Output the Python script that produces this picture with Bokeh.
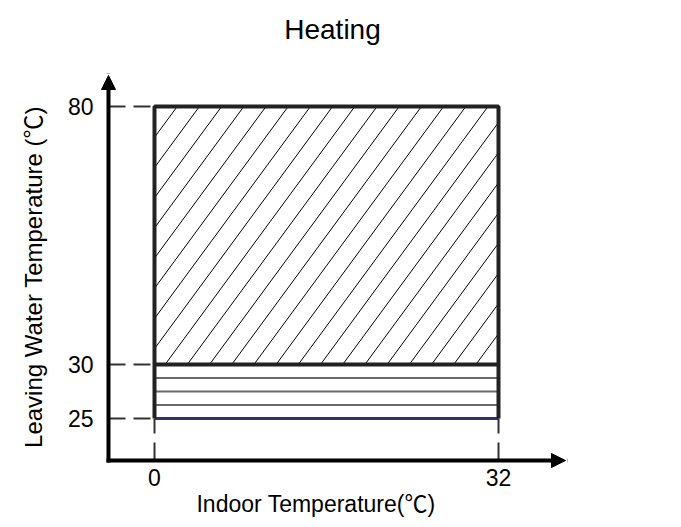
import numpy as np
from bokeh.plotting import figure
from bokeh.models import Range1d, Arrow, NormalHead, Label
from bokeh.core.properties import value
from bokeh.embed import file_html
from bokeh.resources import INLINE

# ---- data ----
title_text = "Heating"
x_label = "Indoor Temperature(℃)"
y_label = "Leaving Water Temperature (℃)"
x_ticks = [0, 32]            # indoor temperature limits
y_ticks = [25, 30, 80]       # leaving water temperature levels
band_lines = [26.25, 27.5, 28.75]   # subdivision lines of the 25-30 band
hatch_bottom, hatch_top = 30, 80

# ---- schematic (piecewise) vertical scale: display units ----
y_anchor_vals = [25, 30, 80]
y_anchor_disp = [0, 54, 312]
def ypos(v):
    return np.interp(v, y_anchor_vals, y_anchor_disp)

FONT = "'Liberation Sans', 'Noto Sans CJK SC', sans-serif"
W, H = 681, 527
PX_PER_X = 10.75          # horizontal pixels per degree
x0 = -154 / PX_PER_X
p = figure(width=W, height=H, output_backend="svg", toolbar_location=None,
           x_range=Range1d(x0, x0 + W / PX_PER_X), y_range=Range1d(418 - H, 418),
           x_axis_type=None, y_axis_type=None, min_border=0)
p.outline_line_color = None
p.grid.visible = False
p.background_fill_color = "white"
p.border_fill_color = "white"

axis_x = -4.28    # position of vertical axis (x units)
axis_y = -42      # position of horizontal axis (display units)
x_tip = 38.23
y_tip = 343

xmin, xmax = min(x_ticks), max(x_ticks)

# ---- hatch lines (style: slope 1.36 in pixel space, 22.2 px spacing) ----
slope, spacing, phase = 1.36, 22.2, 22.7
uL, uR = xmin * PX_PER_X, xmax * PX_PER_X
vB, vT = float(ypos(hatch_bottom)), float(ypos(hatch_top))
hx0, hx1, hy0, hy1 = [], [], [], []
kmax = int((uR - uL + (vT - vB) / slope) / spacing) + 3
for k in range(-2, kmax):
    ut = uL + phase + spacing * k
    vl = vT - (ut - uL) * slope
    vr = vT - (ut - uR) * slope
    lo, hi = max(vB, vl), min(vT, vr)
    if hi - lo > 0.5:
        hx0.append((ut - (vT - lo) / slope) / PX_PER_X)
        hx1.append((ut - (vT - hi) / slope) / PX_PER_X)
        hy0.append(lo)
        hy1.append(hi)
p.segment(x0=hx0, x1=hx1, y0=hy0, y1=hy1, line_color="black", line_width=1)

# band subdivision lines
bl = list(ypos(np.array(band_lines)))
p.segment(x0=[xmin] * len(band_lines), x1=[xmax] * len(band_lines), y0=bl, y1=bl,
          line_color="#6a6a6a", line_width=2)
# bottom line at 25
p.segment(x0=[xmin], x1=[xmax], y0=[ypos(y_ticks[0])], y1=[ypos(y_ticks[0])],
          line_color="#2b3566", line_width=3)

# outline of hatched region
p.quad(left=[xmin], right=[xmax], bottom=[vB], top=[vT],
       fill_color=None, line_color="#222222", line_width=4)
# band side borders
p.segment(x0=[xmin, xmax], x1=[xmin, xmax],
          y0=[ypos(y_ticks[0])] * 2, y1=[vB] * 2,
          line_color="#222222", line_width=4)

# dashed guide lines
ty = list(ypos(np.array(y_ticks)))
p.segment(x0=[axis_x] * len(y_ticks), x1=[xmin] * len(y_ticks), y0=ty, y1=ty,
          line_color="#333333", line_width=2, line_dash="17 8")
p.segment(x0=x_ticks, x1=x_ticks, y0=[axis_y] * len(x_ticks),
          y1=[ypos(y_ticks[0])] * len(x_ticks),
          line_color="#333333", line_width=2, line_dash="18 9")

# axes with arrow heads
p.add_layout(Arrow(x_start=axis_x, y_start=axis_y, x_end=axis_x, y_end=y_tip,
                   line_width=4, line_color="black", line_cap="square",
                   end=NormalHead(size=14, fill_color="black", line_color="black", line_width=1)))
p.add_layout(Arrow(x_start=axis_x, y_start=axis_y, x_end=x_tip, y_end=axis_y,
                   line_width=4, line_color="black", line_cap="square",
                   end=NormalHead(size=14, fill_color="black", line_color="black", line_width=1)))

# tick labels
p.text(x=[axis_x] * len(y_ticks), y=ty, text=[str(v) for v in y_ticks],
       x_offset=-15, y_offset=0, text_align="right", text_baseline="middle",
       text_font=value(FONT), text_font_size="23px", text_color="black")
p.text(x=x_ticks, y=[axis_y] * len(x_ticks), text=[str(v) for v in x_ticks],
       x_offset=0, y_offset=8, text_align="center", text_baseline="top",
       text_font=value(FONT), text_font_size="23px", text_color="black")

# title and axis labels
p.add_layout(Label(x=332, y=H - 28.5, x_units="screen", y_units="screen", text=title_text,
                   text_align="center", text_baseline="alphabetic",
                   text_font=FONT, text_font_size="28px", text_color="black"))
p.add_layout(Label(x=315.5, y=H - 503.2, x_units="screen", y_units="screen", text=x_label,
                   text_align="center", text_baseline="alphabetic",
                   text_font=FONT, text_font_size="23px", text_color="black"))
p.add_layout(Label(x=33, y=H - 276.5, x_units="screen", y_units="screen", text=y_label,
                   angle=np.pi / 2, text_align="center", text_baseline="alphabetic",
                   text_font=FONT, text_font_size="24px", text_color="black"))

open("out.html", "w").write(file_html(p, INLINE))
